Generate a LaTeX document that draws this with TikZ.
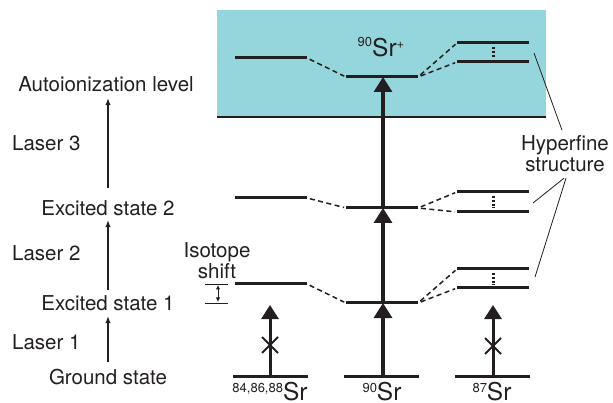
\documentclass[tikz,border=0pt]{standalone}
\usepackage{fontspec}
\setmainfont{TeX Gyre Heros}
\usetikzlibrary{arrows.meta}
\definecolor{ionblue}{RGB}{149,214,220}
\definecolor{ink}{RGB}{35,31,32}
\newcommand\isosup[2]{\raisebox{#1}{\fontsize{13}{13}\selectfont #2}}

\begin{document}
\begin{tikzpicture}[x=1pt,y=-1pt,
  lvl/.style={line width=3pt, draw=ink},
  tran/.style={draw=ink, line width=1.5pt, dash pattern=on 5pt off 3.5pt,
               shorten <=3pt, shorten >=2pt},
  pump/.style={draw=ink, fill=ink, line width=3.2pt,
               -{Triangle[width=18pt,length=15pt]}},
  blocked/.style={draw=ink, fill=ink, line width=3pt,
               -{Triangle[width=17pt,length=14pt]}},
  crossmark/.style={draw=ink, line width=2pt},
  sublvl/.style={draw=ink, line width=3pt, dash pattern=on 2.2pt off 1.6pt},
  ladder/.style={draw=ink, line width=1.1pt, -{Latex[width=5.5pt,length=7pt]}},
  pointer/.style={draw=ink, line width=0.8pt},
  lbl/.style={inner sep=0pt, anchor=base, text height=14.7pt, text depth=0pt,
              font=\fontsize{20.5}{21}\selectfont, text=ink},
  isolbl/.style={inner sep=0pt, anchor=base, font=\fontsize{24.5}{25}\selectfont, text=ink}
]
\useasboundingbox (0,0) rectangle (613,403);

% ionization continuum
\fill[ionblue] (217,10) rectangle (546,117);
\coordinate (contW) at (217,117);
\coordinate (contE) at (546,117);
\draw[ink, line width=1.5pt] (contW) -- (contE);

% --- level end points: L = 84,86,88Sr, C = 90Sr, R = 87Sr (two hyperfine sublevels)
% ground
\coordinate (gL1) at (233,376); \coordinate (gL2) at (308,376);
\coordinate (gC1) at (344,376); \coordinate (gC2) at (419,376);
\coordinate (gR1) at (455,376); \coordinate (gR2) at (530,376);
% excited state 1
\coordinate (eaL1) at (235,284); \coordinate (eaL2) at (307,284);
\coordinate (eaC1) at (346,303); \coordinate (eaC2) at (418,303);
\coordinate (eaU1) at (457,269); \coordinate (eaU2) at (529,269);
\coordinate (eaD1) at (457,288); \coordinate (eaD2) at (529,288);
% excited state 2
\coordinate (ebL1) at (235,198); \coordinate (ebL2) at (307,198);
\coordinate (ebC1) at (346,208); \coordinate (ebC2) at (418,208);
\coordinate (ebU1) at (457,192); \coordinate (ebU2) at (529,192);
\coordinate (ebD1) at (457,212); \coordinate (ebD2) at (529,212);
% autoionization level
\coordinate (aiL1) at (235,58); \coordinate (aiL2) at (307,58);
\coordinate (aiC1) at (346,77); \coordinate (aiC2) at (418,77);
\coordinate (aiU1) at (457,43); \coordinate (aiU2) at (529,43);
\coordinate (aiD1) at (457,62); \coordinate (aiD2) at (529,62);

% level lines
\foreach \a/\b in {gL1/gL2, gC1/gC2, gR1/gR2,
                   eaL1/eaL2, eaC1/eaC2, eaU1/eaU2, eaD1/eaD2,
                   ebL1/ebL2, ebC1/ebC2, ebU1/ebU2, ebD1/ebD2,
                   aiL1/aiL2, aiC1/aiC2, aiU1/aiU2, aiD1/aiD2}
  \draw[lvl] (\a) -- (\b);

% isotope shift / hyperfine correlation lines
\foreach \s in {ea, eb, ai} {
  \draw[tran] (\s L2) -- (\s C1);
  \draw[tran] (\s C2) -- (\s U1);
  \draw[tran] (\s C2) -- (\s D1);
}

% further hyperfine sublevels
\draw[sublvl] (493,47) -- (493,58);
\draw[sublvl] (493,196) -- (493,208);
\draw[sublvl] (493,273) -- (493,285);

% resonant three-step excitation of 90Sr
\coordinate (pG) at (383,376);
\coordinate (pA) at (383,303);
\coordinate (pB) at (383,208);
\coordinate (pC) at (383,77);
\draw[pump] (pG) -- (pA);
\draw[pump] (pA) -- (pB);
\draw[pump] (pB) -- (pC);

% off-resonant isotopes: first step blocked
\coordinate (qL0) at (270,376); \coordinate (qL1) at (270,305);
\coordinate (qR0) at (493,376); \coordinate (qR1) at (493,305);
\draw[blocked] (qL0) -- (qL1);
\draw[blocked] (qR0) -- (qR1);
\coordinate (xL) at (270,345);
\coordinate (xR) at (493,346);
\foreach \c in {xL, xR} {
  \draw[crossmark] ([shift={(-8,-8)}]\c) -- ([shift={(8,8)}]\c);
  \draw[crossmark] ([shift={(-8,8)}]\c) -- ([shift={(8,-8)}]\c);
}

% isotope shift bracket
\coordinate (isA1) at (205,284); \coordinate (isA2) at (228,284);
\coordinate (isB1) at (205,303); \coordinate (isB2) at (228,303);
\draw[pointer, line width=0.8pt] (isA1) -- (isA2);
\draw[pointer, line width=0.8pt] (isB1) -- (isB2);
\draw[ink, line width=0.9pt, {Latex[width=4.5pt,length=4.5pt]}-{Latex[width=4.5pt,length=4.5pt]}]
  (218,285) -- (218,302);
\node[lbl] (iso1) at (217,258) {Isotope};
\node[lbl] (iso2) at (217,279) {shift};

% excitation ladder
\node[lbl] (ai) at (106,92) {Autoionization level};
\node[lbl, anchor=base west] (las3) at (12,151) {Laser 3};
\node[lbl] (es2) at (108,216) {Excited state 2};
\node[lbl, anchor=base west] (las2) at (12,261) {Laser 2};
\node[lbl] (es1) at (108,310) {Excited state 1};
\node[lbl, anchor=base west] (las1) at (12,349) {Laser 1};
\node[lbl] (gs) at (108,384) {Ground state};
\draw[ladder, shorten <=7pt, shorten >=6pt] (gs.north) -- (gs.north |- es1.south);
\draw[ladder, shorten <=5pt, shorten >=4pt] (es1.north) -- (es1.north |- es2.south);
\draw[ladder, shorten <=13pt, shorten >=6pt] (es2.north) -- (es2.north |- ai.south);

% hyperfine structure label
\node[lbl] (hf1) at (565,151) {Hyperfine};
\node[lbl] (hf2) at (565,172) {structure};
\coordinate (hpA) at (534,53);
\coordinate (hpB) at (533,203);
\coordinate (hpC) at (535,277);
\draw[pointer] ([shift={(-3,-6)}]hf1.north) -- (hpA);
\draw[pointer] ([shift={(-1,6)}]hf2.south) -- (hpB);
\draw[pointer] ([shift={(1,6)}]hf2.south) -- (hpC);

% isotope labels
\node[isolbl] (ion) at (381,57) {\isosup{10pt}{90}Sr\isosup{8pt}{+}};
\node[isolbl] (srL) at (270,400.5) {\isosup{8.5pt}{84,86,88}Sr};
\node[isolbl] (srC) at (382,400.5) {\isosup{8.5pt}{90}Sr};
\node[isolbl] (srR) at (492,400.5) {\isosup{8.5pt}{87}Sr};
\end{tikzpicture}
\end{document}
